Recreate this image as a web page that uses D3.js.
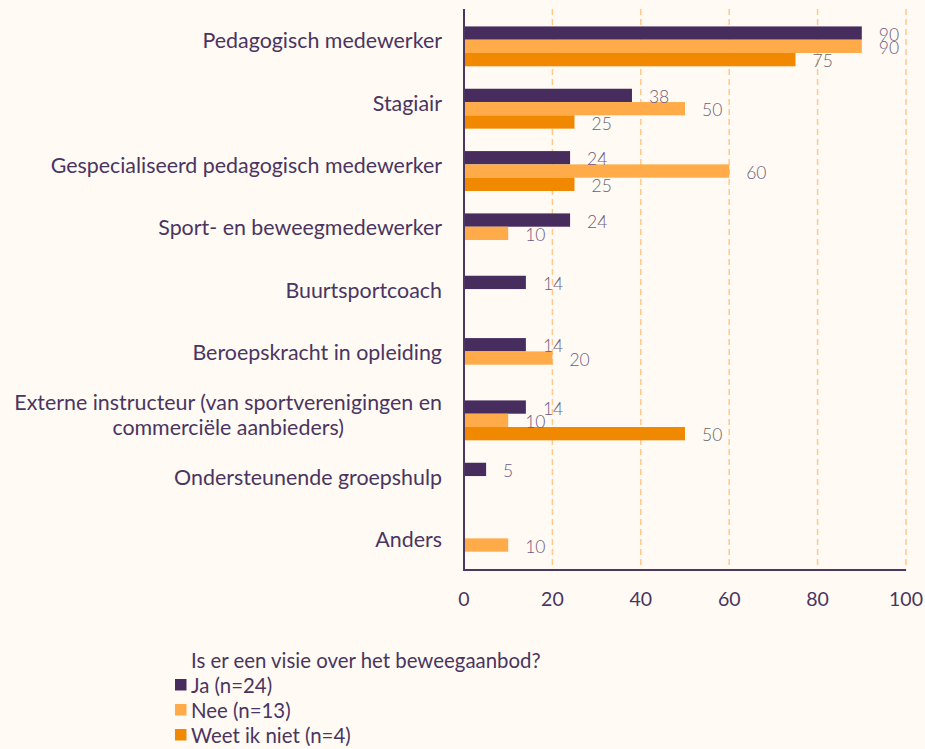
<!DOCTYPE html>
<html><head><meta charset="utf-8">
<script src="https://cdn.jsdelivr.net/npm/d3@7"></script>
<style>
html,body{margin:0;padding:0;background:#fffaf4;}
svg{display:block;font-family:Lato,"Open Sans",sans-serif;}
</style></head>
<body>
<svg id="c" width="925" height="749"></svg>
<script>
const categories = [
  "Pedagogisch medewerker",
  "Stagiair",
  "Gespecialiseerd pedagogisch medewerker",
  "Sport- en beweegmedewerker",
  "Buurtsportcoach",
  "Beroepskracht in opleiding",
  "Externe instructeur (van sportverenigingen en\ncommerciële aanbieders)",
  "Ondersteunende groepshulp",
  "Anders"
];
const seriesNames = ["Ja (n=24)", "Nee (n=13)", "Weet ik niet (n=4)"];
const ja   = [90, 38, 24, 24, 14, 14, 14, 5, null];
const nee  = [90, 50, 60, 10, null, 20, 10, null, 10];
const weet = [75, 25, 25, null, null, null, 50, null, null];
const xTicks = [0, 20, 40, 60, 80, 100];
const legendTitle = "Is er een visie over het beweegaanbod?";

(function(){
const colors = ["#472c5e", "#ffab4a", "#f08800"];
const labelColors = ["#6b5c80", "#6b5c80", "#666666"];
const seriesValues = [ja, nee, weet];

const svg = d3.select("#c");
const W = 925, H = 749;
svg.append("rect").attr("width", W).attr("height", H).attr("fill", "#fffaf4");

const mLeft = 464, mRight = 906, mTop = 9, mBottom = 570;
const x = d3.scaleLinear().domain([0, 100]).range([mLeft, mRight]);
const y = d3.scaleBand().domain(categories).range([mTop, mBottom]).padding(0);
const step = y.step();
const barH = 13.3;
const offset = 6.2;
const sub = d3.scaleBand().domain([0,1,2])
  .range([step/2 - 1.5*barH + offset, step/2 + 1.5*barH + offset]).padding(0);

// gridlines
svg.append("g").selectAll("line").data(xTicks.filter(t => t > 0)).join("line")
  .attr("x1", d => x(d)).attr("x2", d => x(d))
  .attr("y1", mTop).attr("y2", mBottom)
  .attr("stroke", "#ffc98c").attr("stroke-width", 1.5)
  .attr("stroke-dasharray", "6,4");

// bars
seriesValues.forEach((vals, si) => {
  const data = categories.map((c, i) => ({c, v: vals[i]})).filter(d => d.v != null);
  svg.append("g").selectAll("rect").data(data).join("rect")
    .attr("x", x(0))
    .attr("y", d => y(d.c) + sub(si))
    .attr("width", d => x(d.v) - x(0))
    .attr("height", sub.bandwidth())
    .attr("fill", colors[si]);
});

// value labels
seriesValues.forEach((vals, si) => {
  const data = categories.map((c, i) => ({c, v: vals[i]})).filter(d => d.v != null);
  svg.append("g").selectAll("text").data(data).join("text")
    .attr("x", d => x(d.v) + 17)
    .attr("y", d => y(d.c) + sub(si) + sub.bandwidth()/2 + 1)
    .attr("dominant-baseline", "central")
    .attr("font-size", 17.5)
    .attr("font-weight", 300)
    .attr("fill", labelColors[si])
    .text(d => d.v);
});

// axes lines
svg.append("line").attr("x1", mLeft).attr("x2", mLeft).attr("y1", mTop).attr("y2", mBottom + 1)
  .attr("stroke", "#4b3763").attr("stroke-width", 2);
svg.append("line").attr("x1", mLeft).attr("x2", mRight).attr("y1", mBottom).attr("y2", mBottom)
  .attr("stroke", "#4b3763").attr("stroke-width", 2);

// x tick labels
svg.append("g").selectAll("text").data(xTicks).join("text")
  .attr("x", d => x(d)).attr("y", mBottom + 28)
  .attr("text-anchor", "middle").attr("dominant-baseline", "central")
  .attr("font-size", 19.5).attr("fill", "#4a3561")
  .text(d => d);

// category labels
const labelRight = 442;
categories.forEach(c => {
  const lines = c.split("\n");
  const g = svg.append("g");
  const lh = 25;
  const cy = y(c) + step/2;
  const ts = lines.map((ln, i) => g.append("text")
    .attr("y", cy + (i - (lines.length-1)/2) * lh)
    .attr("dominant-baseline", "central")
    .attr("font-size", 21.4).attr("fill", "#4a3561")
    .attr("text-anchor", "middle")
    .text(ln));
  const maxW = d3.max(ts, t => t.node().getComputedTextLength());
  ts.forEach(t => t.attr("x", labelRight - maxW/2));
});

// legend
const lg = svg.append("g");
lg.append("text").attr("x", 191).attr("y", 660).attr("dominant-baseline", "central")
  .attr("font-size", 20.4).attr("fill", "#4a3561").text(legendTitle);
seriesNames.forEach((s, i) => {
  const yy = 685 + i * 25;
  lg.append("rect").attr("x", 175).attr("y", yy - 6).attr("width", 11.5).attr("height", 11.5)
    .attr("fill", colors[i]);
  lg.append("text").attr("x", 191).attr("y", yy).attr("dominant-baseline", "central")
    .attr("font-size", 20.4).attr("fill", "#4a3561").text(s);
});
})();
</script>
</body></html>
